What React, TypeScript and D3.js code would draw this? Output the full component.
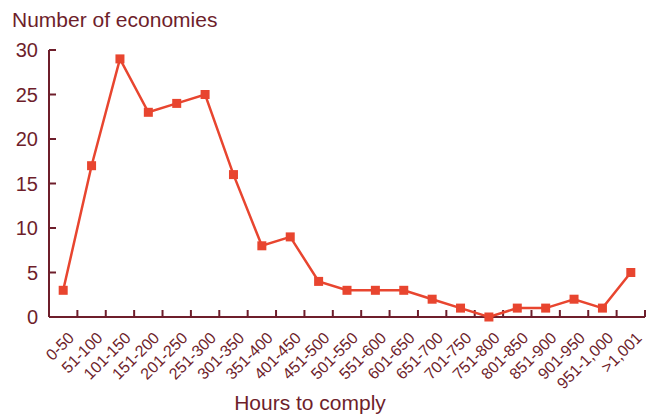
import * as React from 'react'
import * as d3 from 'd3'

const categories = ['0-50', '51-100', '101-150', '151-200', '201-250', '251-300', '301-350', '351-400',
    '401-450', '451-500', '501-550', '551-600', '601-650', '651-700', '701-750', '751-800',
    '801-850', '851-900', '901-950', '951-1,000', '>1,001']
const economies = [3, 17, 29, 23, 24, 25, 16, 8, 9, 4, 3, 3, 3, 2, 1, 0, 1, 1, 2, 1, 5]
const yTicks = [0, 5, 10, 15, 20, 25, 30]

const dark = '#6e1e2b'
const red = '#e8452f'
const font = '"Liberation Sans", Arial, sans-serif'

export default function App () {
    const width = 651
    const height = 414
    const left = 49
    const right = 645
    const top = 50
    const bottom = 317

    const x = d3.scaleBand<string>().domain(categories).range([left, right]).padding(0)
    const y = d3.scaleLinear().domain([0, 30]).range([bottom, top])
    const cx = (c: string) => (x(c) as number) + x.bandwidth() / 2

    const line = d3.line<number>()
        .x((_, i) => cx(categories[i]))
        .y(d => y(d))

    return <svg width={width} height={height} style={{ position: 'absolute', left: 0, top: 0 }}
        fontFamily={font}>
        <text x={12} y={27} fontSize={21} fill={dark}>Number of economies</text>

        {/* y axis */}
        <line x1={left} x2={left} y1={top} y2={bottom} stroke={dark} strokeWidth={2} />
        {yTicks.map(t => <g key={t}>
            <line x1={left} x2={left + 7} y1={y(t)} y2={y(t)} stroke={dark} strokeWidth={2} />
            <text x={38} y={y(t)} dy="0.36em" textAnchor="end" fontSize={20} fill={dark}>{t}</text>
        </g>)}

        {/* x axis */}
        <line x1={left} x2={right} y1={bottom} y2={bottom} stroke={dark} strokeWidth={2} />
        {categories.map(c => <line key={'t' + c}
            x1={(x(c) as number) + x.bandwidth()} x2={(x(c) as number) + x.bandwidth()}
            y1={bottom} y2={bottom - 7} stroke={dark} strokeWidth={2} />)}
        {categories.map(c => <text key={'l' + c}
            transform={`translate(${cx(c) + 4},${bottom + 14}) rotate(-45)`}
            textAnchor="end" dy="0.7em" fontSize={16} fill={dark}>{c}</text>)}

        <text x={310} y={410} textAnchor="middle" fontSize={21} fill={dark}>Hours to comply</text>

        <path d={line(economies) || ''} fill="none" stroke={red} strokeWidth={2.5} />
        {economies.map((v, i) => <rect key={i}
            x={cx(categories[i]) - 4.5} y={y(v) - 4.5} width={9} height={9} fill={red} />)}
    </svg>
}
